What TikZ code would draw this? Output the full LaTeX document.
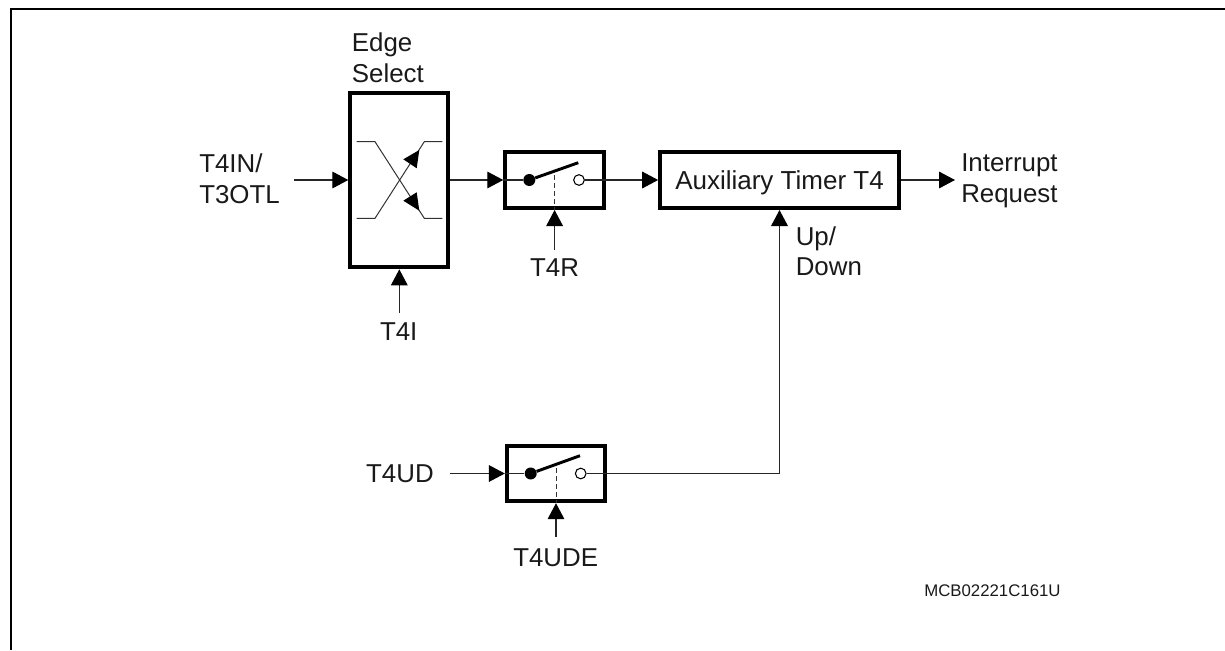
\documentclass[tikz,border=0pt]{standalone}
\usepackage{fontspec}
\setmainfont{Liberation Sans}
\usetikzlibrary{arrows.meta}
\tikzset{
  px/.style={x=0.75pt,y=-0.75pt},
  blk/.style={draw=black,line width=3pt,fill=white,inner sep=0pt,anchor=center},
  sig/.style={draw=black!85,line width=0.8pt},
  arr/.style={sig,-{Triangle[length=12pt,width=12.5pt,black]}},
  thin/.style={draw=black!80,line width=0.75pt},
  lbl/.style={inner sep=0pt,font=\fontsize{19.4pt}{23pt}\selectfont,align=left,text=black!90},
  dot/.style={circle,fill=black,inner sep=0pt,minimum size=9pt},
  ring/.style={circle,draw=black,line width=0.8pt,fill=white,inner sep=0pt,minimum size=8pt},
  tip/.style={fill=black,draw=none}
}
\begin{document}
\begin{tikzpicture}[px]
\useasboundingbox (0,0) rectangle (1225,650);
\draw[line width=1.9pt] (11,650) -- (11,9) -- (1225,9);
% blocks
\node[blk,minimum width=73.5pt,minimum height=131pt] (edge) at (399.3,180) {};
\node[blk,minimum width=74pt,minimum height=42pt] (sw1) at (554.6,180) {};
\node[blk,minimum width=179pt,minimum height=42pt,text height=14pt,text depth=0pt,font=\fontsize{19.5pt}{23pt}\selectfont,text=black!90] (tim) at (779.5,180) {Auxiliary Timer T4};
\node[blk,minimum width=73.7pt,minimum height=41.5pt] (sw2) at (556,473.5) {};
% edge select symbol
\coordinate (e1) at (356.7,141.7); \coordinate (e2) at (375,141.7);
\coordinate (e3) at (424.3,218.3); \coordinate (e4) at (442.3,218.3);
\coordinate (f1) at (356.7,218.3); \coordinate (f2) at (375,218.3);
\coordinate (f3) at (424.3,141.7); \coordinate (f4) at (442.3,141.7);
\draw[thin] (e1) -- (e2) -- (e3) -- (e4);
\draw[thin] (f1) -- (f2) -- (f3) -- (f4);
\fill[tip] (419.3,150) -- (403.3,159.3) -- (416.7,168.3) -- cycle;
\fill[tip] (419.3,210.7) -- (403.3,200.7) -- (416.7,192.3) -- cycle;
% switch 1
\node[dot] (d1) at (529.3,180) {};
\node[ring] (r1) at (579,180) {};
\coordinate (t1) at (578.3,162.7);
\coordinate (h1) at (554.6,175);
\draw[line width=2.2pt] (d1) -- (t1);
\draw[sig] (sw1.west) -- (d1);
\draw[sig] (r1) -- (sw1.east);
\draw[thin,dash pattern=on 4pt off 2pt] (h1) -- (sw1.south);
% switch 2
\node[dot] (d2) at (530.7,473.5) {};
\node[ring] (r2) at (580.7,473.5) {};
\coordinate (t2) at (580,455.7);
\coordinate (h2) at (556,468);
\draw[line width=2.2pt] (d2) -- (t2);
\draw[sig] (sw2.west) -- (d2);
\draw[sig] (r2) -- (sw2.east);
\draw[thin,dash pattern=on 4pt off 2pt] (h2) -- (sw2.south);
% labels
\node[lbl,anchor=north west] (les) at (351.7,32.5) {Edge\\Select};
\node[lbl,anchor=north west] (l4in) at (199,153.5) {T4IN/\\T3OTL};
\node[lbl,anchor=north] (l4i) at (398.7,322.5) {T4I};
\node[lbl,anchor=north] (l4r) at (554.6,258) {T4R};
\node[lbl,anchor=north west] (lint) at (961,153.5) {Interrupt\\Request};
\node[lbl,anchor=north west] (lup) at (795.5,226) {Up/\\Down};
\node[lbl,anchor=east] (lud) at (434,474) {T4UD};
\node[lbl,anchor=north] (lude) at (555.7,548) {T4UDE};
\node[anchor=north west,inner sep=0pt,font=\fontsize{12.6pt}{15pt}\selectfont,text=black!90] (lmc) at (924,584) {MCB02221C161U};
% connectors
\coordinate (a1) at (294,180); \coordinate (a2) at (399.3,313);
\coordinate (a3) at (554.6,250); \coordinate (a4) at (450,473.5);
\coordinate (a5) at (556,537); \coordinate (bend) at (779.5,473.5);
\coordinate (a6) at (955,180);
\draw[arr] (a1) -- (edge.west);
\draw[arr] (a2) -- (edge.south);
\draw[arr] (edge.east) -- (sw1.west);
\draw[arr] (a3) -- (sw1.south);
\draw[arr] (sw1.east) -- (tim.west);
\draw[arr] (tim.east) -- (a6);
\draw[arr] (a4) -- (sw2.west);
\draw[arr] (a5) -- (sw2.south);
\draw[arr] (sw2.east) -- (bend) -- (tim.south);
\end{tikzpicture}
\end{document}
